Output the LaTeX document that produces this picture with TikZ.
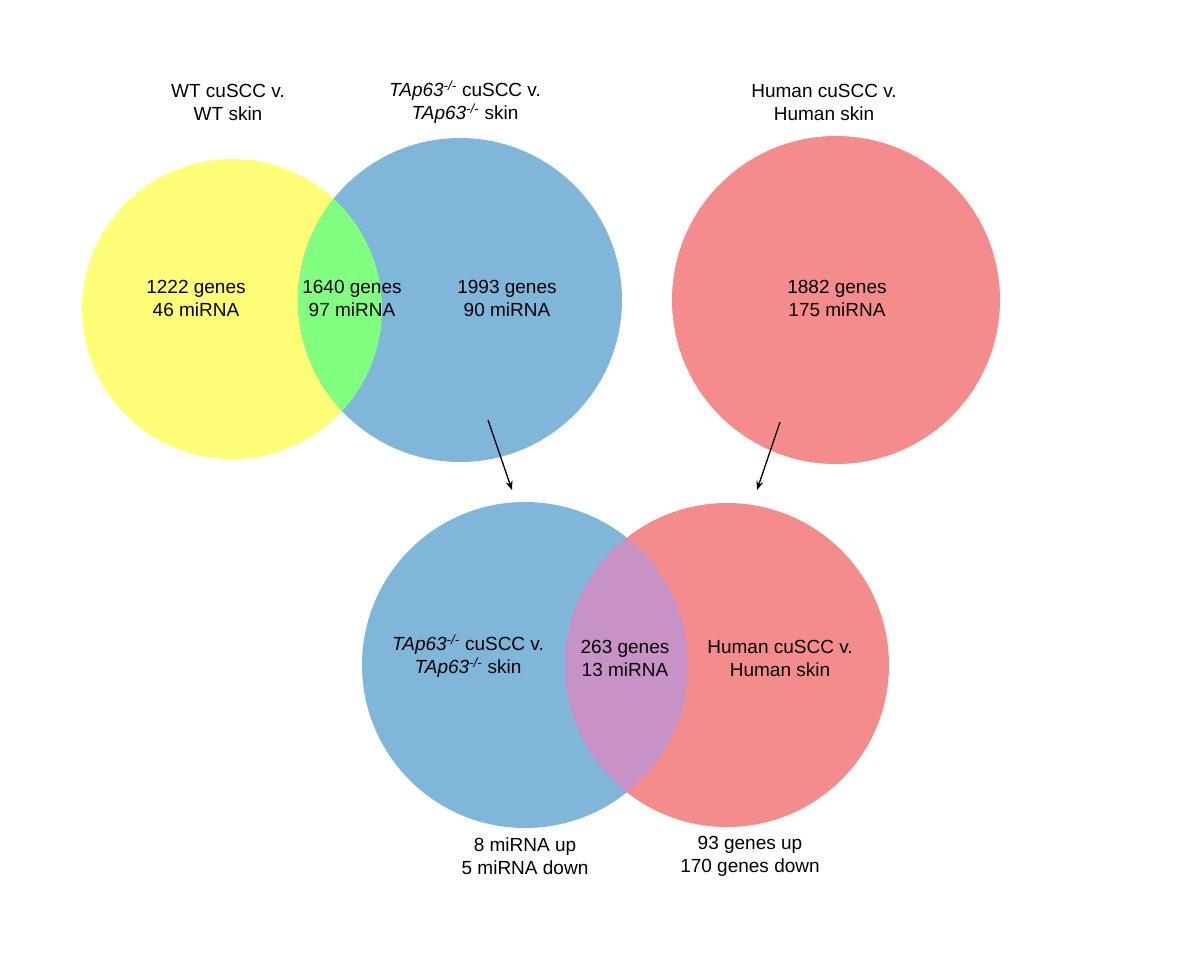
\documentclass[tikz,border=0pt]{standalone}
\usepackage{fontspec}
\setmainfont{Liberation Sans}
\usetikzlibrary{arrows.meta}
\begin{document}
\begin{tikzpicture}[x=1pt,y=-1pt,
  lbl/.style={align=center,font=\fontsize{19}{23}\selectfont,inner sep=0pt},
  arr/.style={-{Stealth[length=9pt,width=7pt]},line width=1.3pt}]
\useasboundingbox (0,0) rectangle (1200,980);
\definecolor{cy}{HTML}{FFFF77}\definecolor{cb}{HTML}{80B6DA}
\definecolor{cg}{HTML}{80FF80}\definecolor{cr}{HTML}{F48B8D}\definecolor{cp}{HTML}{C792C6}
\newcommand{\tap}{\textit{TAp63}\textsuperscript{\textit{-/-}}}
\fill[cy] (232,309) circle (150);
\fill[cb] (460,300) circle (162);
\begin{scope}\clip (232,309) circle (150); \fill[cg] (460,300) circle (162);\end{scope}
\fill[cr] (836,300) circle (164);
\fill[cb] (525,665) circle (163);
\fill[cr] (727,665) circle (162);
\begin{scope}\clip (525,665) circle (163); \fill[cp] (727,665) circle (162);\end{scope}
\node[lbl] (t1) at (228,102) {WT cuSCC v.\\WT skin};
\node[lbl] (t2) at (465,102) {\tap{} cuSCC v.\\\tap{} skin};
\node[lbl] (t3) at (824,102) {Human cuSCC v.\\Human skin};
\node[lbl] (a) at (196,298) {1222 genes\\46 miRNA};
\node[lbl] (b) at (352,298) {1640 genes\\97 miRNA};
\node[lbl] (c) at (507,298) {1993 genes\\90 miRNA};
\node[lbl] (d) at (837,298) {1882 genes\\175 miRNA};
\node[lbl] (e) at (468,656) {\tap{} cuSCC v.\\\tap{} skin};
\node[lbl] (f) at (625,658) {263 genes\\13 miRNA};
\node[lbl] (g) at (780,658) {Human cuSCC v.\\Human skin};
\node[lbl] (h) at (525,856) {8 miRNA up\\5 miRNA down};
\node[lbl] (i) at (750,856) {93 genes up\\170 genes down};
\coordinate (s1) at (488,420); \coordinate (e1) at (512,490);
\coordinate (s2) at (780,422); \coordinate (e2) at (757,490);
\draw[arr] (s1) -- (e1);
\draw[arr] (s2) -- (e2);
\end{tikzpicture}
\end{document}
